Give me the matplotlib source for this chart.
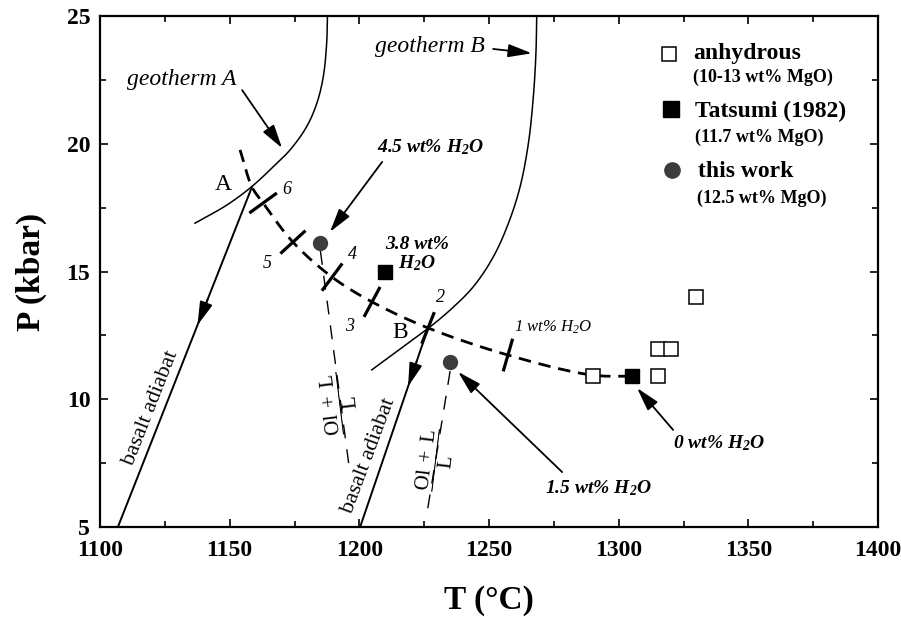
import numpy as np
import matplotlib
matplotlib.use("Agg")
import matplotlib.pyplot as plt
from matplotlib.ticker import MultipleLocator

# ---------------- data ----------------
anhyd_T = [1290, 1315, 1315, 1320, 1330]
anhyd_P = [10.9, 10.9, 11.95, 11.95, 14.0]
tatsumi_T = [1210, 1305]
tatsumi_P = [15.0, 10.9]
this_T = [1185, 1235]
this_P = [16.1, 11.47]

# liquidus / multiple saturation dashed curve
sat_T = [1154.0, 1158.6, 1162.9, 1174.4, 1189.5, 1204.9, 1226.5, 1257.3, 1289.4, 1305.0]
sat_P = [19.76, 18.31, 17.68, 16.15, 14.78, 13.81, 12.79, 11.73, 10.95, 10.9]
# cross ticks on the dashed curve
tick_T = [1162.9, 1174.4, 1189.5, 1204.9, 1226.5, 1257.3]
tick_P = [17.68, 16.15, 14.78, 13.81, 12.79, 11.73]
tick_lab = ["6", "5", "4", "3", "2", ""]
tick_lab_T = [1172.1, 1164.4, 1197.2, 1196.4, 1231.1]
tick_lab_P = [18.19, 15.33, 15.65, 12.83, 14.0]

geoA_T = [1136.6, 1148.9, 1158.5, 1166.8, 1173.3, 1179.7, 1183.6, 1186.1, 1187.4, 1187.7]
geoA_P = [16.89, 17.60, 18.32, 19.10, 19.76, 20.67, 21.58, 22.62, 23.93, 25.0]
geoB_T = [1204.8, 1217.0, 1226.6, 1235.0, 1244.0, 1251.7, 1257.5, 1262.0, 1265.2, 1267.1,
          1268.1, 1268.4]
geoB_P = [11.15, 12.06, 12.78, 13.49, 14.41, 15.58, 16.89, 18.32, 20.02, 21.84, 23.54, 25.0]

adA_T = [1158.6, 1106.9]
adA_P = [18.31, 5.0]
adB_T = [1226.5, 1200.3]
adB_P = [12.79, 5.0]

olL1_T = [1185.0, 1196.4]
olL1_P = [15.8, 7.11]
olL2_T = [1235.0, 1226.1]
olL2_P = [11.1, 5.55]

# ---------------- style ----------------
plt.rcParams["font.family"] = ["Liberation Serif", "DejaVu Serif"]
plt.rcParams["mathtext.fontset"] = "custom"
plt.rcParams["mathtext.rm"] = "Liberation Serif"
plt.rcParams["mathtext.it"] = "Liberation Serif:italic"
plt.rcParams["mathtext.bf"] = "Liberation Serif:bold"

fig = plt.figure(figsize=(9.01, 6.17), dpi=100)
ax = fig.add_axes([100 / 901, 90 / 617, 778 / 901, 511 / 617])
ax.set_xlim(1100, 1400)
ax.set_ylim(5, 25)

SX, SY = 778 / 300, 511 / 20  # approx px per unit


def smooth(xs, ys, n=20):
    """centripetal Catmull-Rom through the given points"""
    P = np.column_stack([np.asarray(xs) * SX, np.asarray(ys) * SY])
    P = np.vstack([2 * P[0] - P[1], P, 2 * P[-1] - P[-2]])
    out = []
    for i in range(1, len(P) - 2):
        p0, p1, p2, p3 = P[i - 1], P[i], P[i + 1], P[i + 2]
        t0 = 0.0
        t1 = t0 + np.linalg.norm(p1 - p0) ** 0.5
        t2 = t1 + np.linalg.norm(p2 - p1) ** 0.5
        t3 = t2 + np.linalg.norm(p3 - p2) ** 0.5
        t = np.linspace(t1, t2, n, endpoint=False)[:, None]
        a1 = (t1 - t) / (t1 - t0) * p0 + (t - t0) / (t1 - t0) * p1
        a2 = (t2 - t) / (t2 - t1) * p1 + (t - t1) / (t2 - t1) * p2
        a3 = (t3 - t) / (t3 - t2) * p2 + (t - t2) / (t3 - t2) * p3
        b1 = (t2 - t) / (t2 - t0) * a1 + (t - t0) / (t2 - t0) * a2
        b2 = (t3 - t) / (t3 - t1) * a2 + (t - t1) / (t3 - t1) * a3
        c = (t2 - t) / (t2 - t1) * b1 + (t - t1) / (t2 - t1) * b2
        out.append(c)
    out.append(P[-2][None, :])
    out = np.vstack(out)
    return out[:, 0] / SX, out[:, 1] / SY


# geotherms
gx, gy = smooth(geoA_T, geoA_P)
ax.plot(gx, gy, color="black", lw=1.1)
gx, gy = smooth(geoB_T, geoB_P)
ax.plot(gx, gy, color="black", lw=1.1)

# adiabats
ax.plot(adA_T, adA_P, color="black", lw=1.4)
ax.plot(adB_T, adB_P, color="black", lw=1.4)

# Ol+L / L dashed lines
ax.plot(olL1_T, olL1_P, color="black", lw=1.0, dashes=(10, 8))
ax.plot(olL2_T, olL2_P, color="black", lw=1.0, dashes=(10, 8))

# dashed saturation curve
sx, sy = smooth(sat_T, sat_P)
ax.plot(sx, sy, color="black", lw=2.0, dashes=(4.5, 2.8))

# cross ticks perpendicular to the curve
disp = ax.transData.transform(np.column_stack([sx, sy]))
for tx, tp in zip(tick_T, tick_P):
    d = ax.transData.transform((tx, tp))
    i = int(np.argmin(np.hypot(disp[:, 0] - d[0], disp[:, 1] - d[1])))
    a = disp[max(i - 3, 0)]
    b = disp[min(i + 3, len(disp) - 1)]
    tvec = (b - a) / np.hypot(*(b - a))
    nvec = np.array([-tvec[1], tvec[0]])
    seg = np.array([d + 17 * nvec, d - 17 * nvec])
    seg = ax.transData.inverted().transform(seg)
    ax.plot(seg[:, 0], seg[:, 1], color="black", lw=2.3, solid_capstyle="butt")

# markers
ax.plot(anhyd_T, anhyd_P, ls="none", marker="s", ms=9.5, mfc="white", mec="black", mew=1.1, zorder=5)
ax.plot(tatsumi_T, tatsumi_P, ls="none", marker="s", ms=10, mfc="black", mec="black", zorder=5)
ax.plot(this_T, this_P, ls="none", marker="o", ms=10, mfc="#3c3c3c", mec="#3c3c3c", zorder=5)

# arrows
ap = dict(arrowstyle="-|>,head_length=0.9,head_width=0.25", color="black", lw=1.3,
          shrinkA=0, shrinkB=0, mutation_scale=16)
ax.annotate("", xy=(1170.2, 19.83), xytext=(1154.8, 22.1), arrowprops=ap)
ax.annotate("", xy=(1266.5, 23.54), xytext=(1251.6, 23.71), arrowprops=ap)
ax.annotate("", xy=(1188.7, 16.55), xytext=(1208.8, 19.29), arrowprops=ap)
ax.annotate("", xy=(1238.1, 11.07), xytext=(1278.2, 7.15), arrowprops=ap)
ax.annotate("", xy=(1307.1, 10.44), xytext=(1321.0, 8.80), arrowprops=ap)

# arrowheads on adiabats
for (lt, lp, ptip) in [(adA_T, adA_P, 12.9), (adB_T, adB_P, 10.5)]:
    xt = np.interp(ptip, lp[::-1], lt[::-1])
    xs = np.interp(ptip + 1.0, lp[::-1], lt[::-1])
    ax.annotate("", xy=(xt, ptip), xytext=(xs, ptip + 1.0), arrowprops=ap)

# text labels
ax.text(1131.6, 22.5, "geotherm A", style="italic", fontsize=17, ha="center", va="center")
ax.text(1227.3, 23.79, "geotherm B", style="italic", fontsize=17, ha="center", va="center")
ax.text(1147.4, 18.39, "A", fontsize=17, ha="center", va="center")
ax.text(1215.7, 12.63, "B", fontsize=17, ha="center", va="center")
for lab, lx, ly in zip(tick_lab, tick_lab_T, tick_lab_P):
    ax.text(lx, ly, lab, style="italic", fontsize=13, ha="center", va="center")

bi = dict(style="italic", weight="bold", fontsize=14, ha="center", va="center")
ax.text(1227.3, 19.87, r"4.5 wt% $\mathdefault{H_2O}$", **bi)
ax.text(1222.3, 16.04, "3.8 wt%", **bi)
ax.text(1215.0, 15.33, r"$\mathdefault{H_2O}$", style="italic", weight="bold", fontsize=14,
        ha="left", va="center")
ax.text(1338.7, 8.29, r"0 wt% $\mathdefault{H_2O}$", **bi)
ax.text(1292.4, 6.53, r"1.5 wt% $\mathdefault{H_2O}$", **bi)
ax.text(1274.7, 12.83, r"1 wt% $\mathdefault{H_2O}$", style="italic", fontsize=12,
        ha="center", va="center")

ax.text(1119.5, 9.66, "basalt adiabat", fontsize=16, rotation=68.5, ha="center", va="center",
        rotation_mode="anchor")
ax.text(1203.8, 7.78, "basalt adiabat", fontsize=16, rotation=69.5, ha="center", va="center",
        rotation_mode="anchor")
frac = r"$\dfrac{\mathdefault{Ol\ +\ L}}{\mathdefault{L}}$"
ax.text(1192.6, 9.85, frac, fontsize=15, rotation=97, ha="center", va="center",
        rotation_mode="anchor")
ax.text(1229.4, 7.62, frac, fontsize=15, rotation=83, ha="center", va="center",
        rotation_mode="anchor")

# legend (manual)
tr = ax.transAxes
ax.plot([0.7314], [0.9256], transform=tr, marker="s", ms=10, mfc="white", mec="black", mew=1.1)
ax.plot([0.7339], [0.8180], transform=tr, marker="s", ms=11, mfc="black", mec="black")
ax.plot([0.7352], [0.6986], transform=tr, marker="o", ms=11, mfc="#3c3c3c", mec="#3c3c3c")
ax.text(0.7622, 0.9159, "anhydrous", transform=tr, weight="bold", fontsize=17, va="baseline")
ax.text(0.7622, 0.8708, "(10-13 wt% MgO)", transform=tr, weight="bold", fontsize=13, va="baseline")
ax.text(0.7648, 0.8023, "Tatsumi (1982)", transform=tr, weight="bold", fontsize=17, va="baseline")
ax.text(0.7648, 0.7534, "(11.7 wt% MgO)", transform=tr, weight="bold", fontsize=13, va="baseline")
ax.text(0.7686, 0.6849, "this work", transform=tr, weight="bold", fontsize=17, va="baseline")
ax.text(0.7674, 0.6341, "(12.5 wt% MgO)", transform=tr, weight="bold", fontsize=13, va="baseline")

# axes styling
ax.xaxis.set_major_locator(MultipleLocator(50))
ax.xaxis.set_minor_locator(MultipleLocator(25))
ax.yaxis.set_major_locator(MultipleLocator(5))
ax.yaxis.set_minor_locator(MultipleLocator(2.5))
ax.tick_params(which="both", direction="in", top=True, right=True, width=1.2)
ax.tick_params(which="major", length=6, pad=7)
ax.tick_params(axis="x", which="major", pad=9)
ax.tick_params(which="minor", length=4)
for lab in ax.get_xticklabels() + ax.get_yticklabels():
    lab.set_fontweight("bold")
    lab.set_fontsize(17)
for s in ax.spines.values():
    s.set_linewidth(1.6)
ax.set_xlabel("T (°C)", fontsize=24, fontweight="bold", labelpad=18)
ax.set_ylabel("P (kbar)", fontsize=24, fontweight="bold", labelpad=14)

fig.savefig("out.png", dpi=100)
